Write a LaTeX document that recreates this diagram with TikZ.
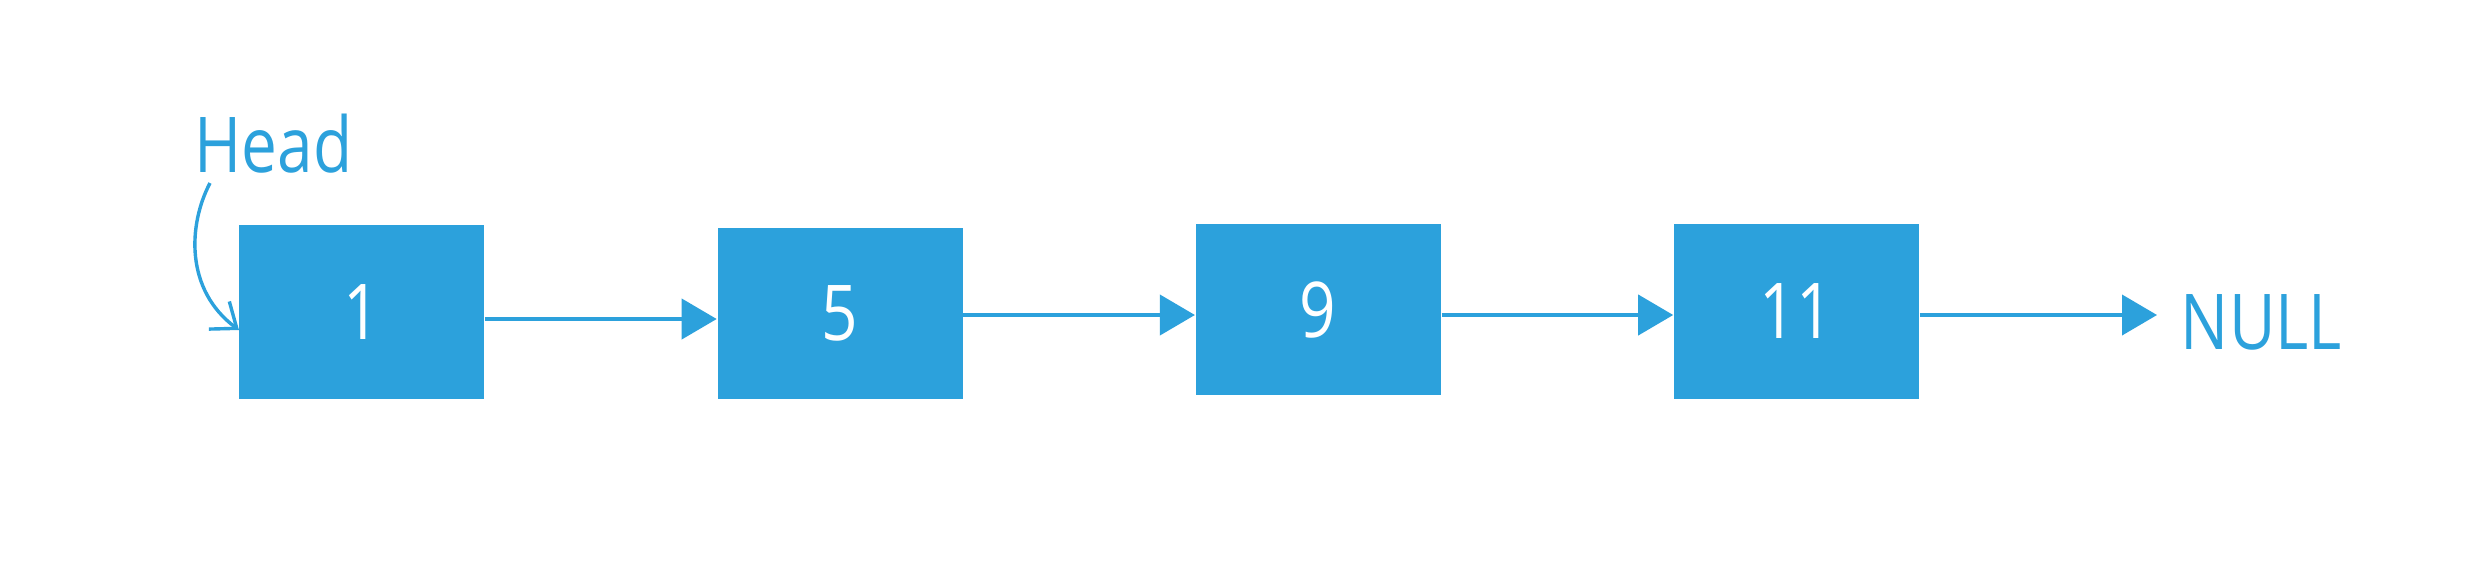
\documentclass[tikz,border=0pt]{standalone}
\usepackage{fontspec}
\usetikzlibrary{arrows.meta}
\newfontfamily\lblfont[FakeStretch=0.83]{Open Sans}
\definecolor{llblue}{RGB}{44,161,220}
\begin{document}
\begin{tikzpicture}[x=0.25pt,y=-0.25pt,
  nodebox/.style={draw=none,fill=llblue,inner sep=0pt,minimum width=61.25pt,
    text=white,font=\lblfont\fontsize{19.25}{23}\selectfont},
  lbl/.style={inner sep=0pt,text=llblue,font=\lblfont\fontsize{19.25}{23}\selectfont},
  link/.style={draw=llblue,line width=1pt,-{Triangle[length=8.75pt,width=10pt]}},
  headlink/.style={draw=llblue,line width=0.85pt,-{Straight Barb[length=5.5pt,width=8.6pt,line width=0.85pt]}}]
\useasboundingbox (0,0) rectangle (2481,569);
\fill[white] (0,0) rectangle (2481,569);
% boxes
\node[nodebox,minimum height=43.55pt] (b1) at (361.5,311.7) {1};
\node[nodebox,minimum height=42.6pt] (b2) at (840,313.5) {5};
\node[nodebox,minimum height=42.7pt] (b3) at (1318.2,309.7) {9};
\node[nodebox,minimum height=43.6pt] (b4) at (1796.5,311.5) {11};
% labels
\node[lbl,anchor=base west] (head) at (194,172) {Head};
\node[lbl,anchor=base west] (null) at (2180,349) {NULL};
% link levels
\coordinate (y1) at (0,319);
\coordinate (y2) at (0,315);
\coordinate (nullin) at (2157,315);
\coordinate (hs) at (210,183);
\coordinate (he) at (239,330);
% links
\draw[link] (b1.east |- y1) -- (b2.west |- y1);
\draw[link] (b2.east |- y2) -- (b3.west |- y2);
\draw[link] (b3.east |- y2) -- (b4.west |- y2);
\draw[link] (b4.east |- y2) -- (nullin);
% head pointer
\draw[headlink] (hs) .. controls (188,225) and (185,290) .. (he);
\end{tikzpicture}
\end{document}
